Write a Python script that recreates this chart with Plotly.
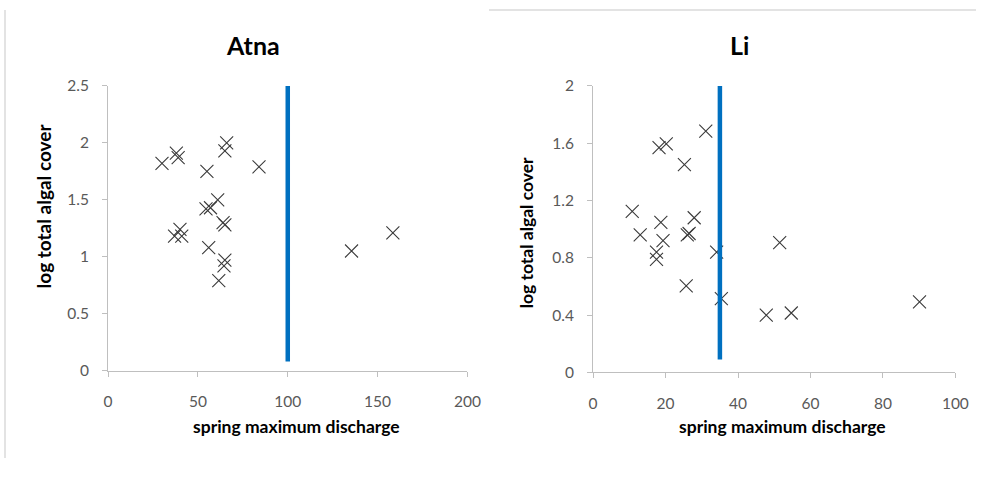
import plotly.graph_objects as go

# ---- data ----
atna_discharge = [30, 38, 39, 55, 66, 65, 84, 61, 54.5, 57, 64, 65, 37, 40, 41, 56, 65, 64.5, 61.6, 135.5, 158.5]
atna_cover = [1.82, 1.91, 1.87, 1.75, 2.00, 1.93, 1.79, 1.50, 1.42, 1.43, 1.30, 1.28, 1.18, 1.24, 1.18, 1.08, 0.97, 0.92, 0.79, 1.05, 1.21]

li_discharge = [31.1, 18.2, 20.2, 25.2, 10.8, 27.9, 18.7, 13.0, 26.0, 26.5, 19.3, 17.5, 17.5, 34.1, 25.7, 35.4, 47.8, 54.7, 90.1, 51.5]
li_cover = [1.685, 1.57, 1.595, 1.45, 1.125, 1.08, 1.047, 0.96, 0.96, 0.97, 0.92, 0.84, 0.79, 0.84, 0.605, 0.515, 0.40, 0.415, 0.493, 0.907]

atna_threshold_x = [100, 100]
atna_threshold_y = [0.08, 2.5]
li_threshold_x = [35, 35]
li_threshold_y = [0.09, 2.0]

titles = ["Atna", "Li"]
x_title = "spring maximum discharge"
y_title = "log total algal cover"
atna_xticks = [0, 50, 100, 150, 200]
atna_yticks = [0, 0.5, 1, 1.5, 2, 2.5]
li_xticks = [0, 20, 40, 60, 80, 100]
li_yticks = [0, 0.4, 0.8, 1.2, 1.6, 2]
li_yticklabels = ["0", "0.4", "0.8", "1.2", "1.6", "2"]

# page keeps the default 8px body margin, so the figure is sized to fill the rest exactly
OFF = 8
W, H = 1005 - 2 * OFF, 482 - 2 * OFF
FONT = "Lato, Open Sans, sans-serif"

def px_x(p):
    return (p - OFF) / W

def px_y(p):
    return 1 - (p - OFF) / H

fig = go.Figure()

marker = dict(symbol="x-thin", size=13, line=dict(width=1.1, color="#3a3a3a"), color="#3a3a3a")

fig.add_trace(go.Scatter(x=atna_discharge, y=atna_cover, mode="markers", marker=marker,
                         xaxis="x", yaxis="y", showlegend=False, cliponaxis=False))
fig.add_trace(go.Scatter(x=atna_threshold_x, y=atna_threshold_y, mode="lines",
                         line=dict(color="#0070C0", width=4.5), xaxis="x", yaxis="y", showlegend=False))
fig.add_trace(go.Scatter(x=li_discharge, y=li_cover, mode="markers", marker=marker,
                         xaxis="x2", yaxis="y2", showlegend=False, cliponaxis=False))
fig.add_trace(go.Scatter(x=li_threshold_x, y=li_threshold_y, mode="lines",
                         line=dict(color="#0070C0", width=4.5), xaxis="x2", yaxis="y2", showlegend=False))

axis_common = dict(showgrid=False, zeroline=False, showline=True, linecolor="#bfbfbf", linewidth=1,
                   ticks="outside", ticklen=5, tickcolor="#bfbfbf", tickwidth=1,
                   tickfont=dict(family=FONT, size=15.5, color="#595959"))

fig.update_layout(
    width=W, height=H,
    margin=dict(l=0, r=0, t=0, b=0),
    paper_bgcolor="white", plot_bgcolor="white",
    xaxis=dict(domain=[px_x(113), px_x(479)], range=[0, 200], tickvals=atna_xticks,
               anchor="y", ticklabelstandoff=12, **axis_common),
    yaxis=dict(domain=[px_y(383), px_y(87)], range=[0, 2.5], tickvals=atna_yticks,
               anchor="x", ticklabelstandoff=10, **axis_common),
    xaxis2=dict(domain=[px_x(607), px_x(976)], range=[0, 100], tickvals=li_xticks,
                anchor="y2", ticklabelstandoff=12, **axis_common),
    yaxis2=dict(domain=[px_y(385), px_y(87)], range=[0, 2], tickmode="array", tickvals=li_yticks,
                ticktext=li_yticklabels, anchor="x2", ticklabelstandoff=10, **axis_common),
)

ann = []
for t, cx in zip(titles, [261, 756]):
    ann.append(dict(text=f"<b>{t}</b>", x=px_x(cx), y=px_y(44), xref="paper", yref="paper",
                    showarrow=False, font=dict(family=FONT, size=25, color="black"),
                    xanchor="center", yanchor="middle"))
for cx in [305, 800]:
    ann.append(dict(text=f"<b>{x_title}</b>", x=px_x(cx), y=px_y(441), xref="paper", yref="paper",
                    showarrow=False, font=dict(family=FONT, size=17.5, color="black"),
                    xanchor="center", yanchor="middle"))
for cx, cy, fs in [(47, 212, 19), (539, 240, 17.5)]:
    ann.append(dict(text=f"<b>{y_title}</b>", x=px_x(cx), y=px_y(cy), xref="paper", yref="paper",
                    showarrow=False, textangle=-90, font=dict(family=FONT, size=fs, color="black"),
                    xanchor="center", yanchor="middle"))
fig.update_layout(annotations=ann)

# faint chart-frame borders
fig.add_shape(type="line", xref="paper", yref="paper", x0=0, x1=0, y0=1, y1=0,
              line=dict(color="#e3e3e3", width=2))
fig.add_shape(type="line", xref="paper", yref="paper", x0=px_x(501), x1=1, y0=1, y1=1,
              line=dict(color="#e3e3e3", width=2))

fig.write_html("out.html")
